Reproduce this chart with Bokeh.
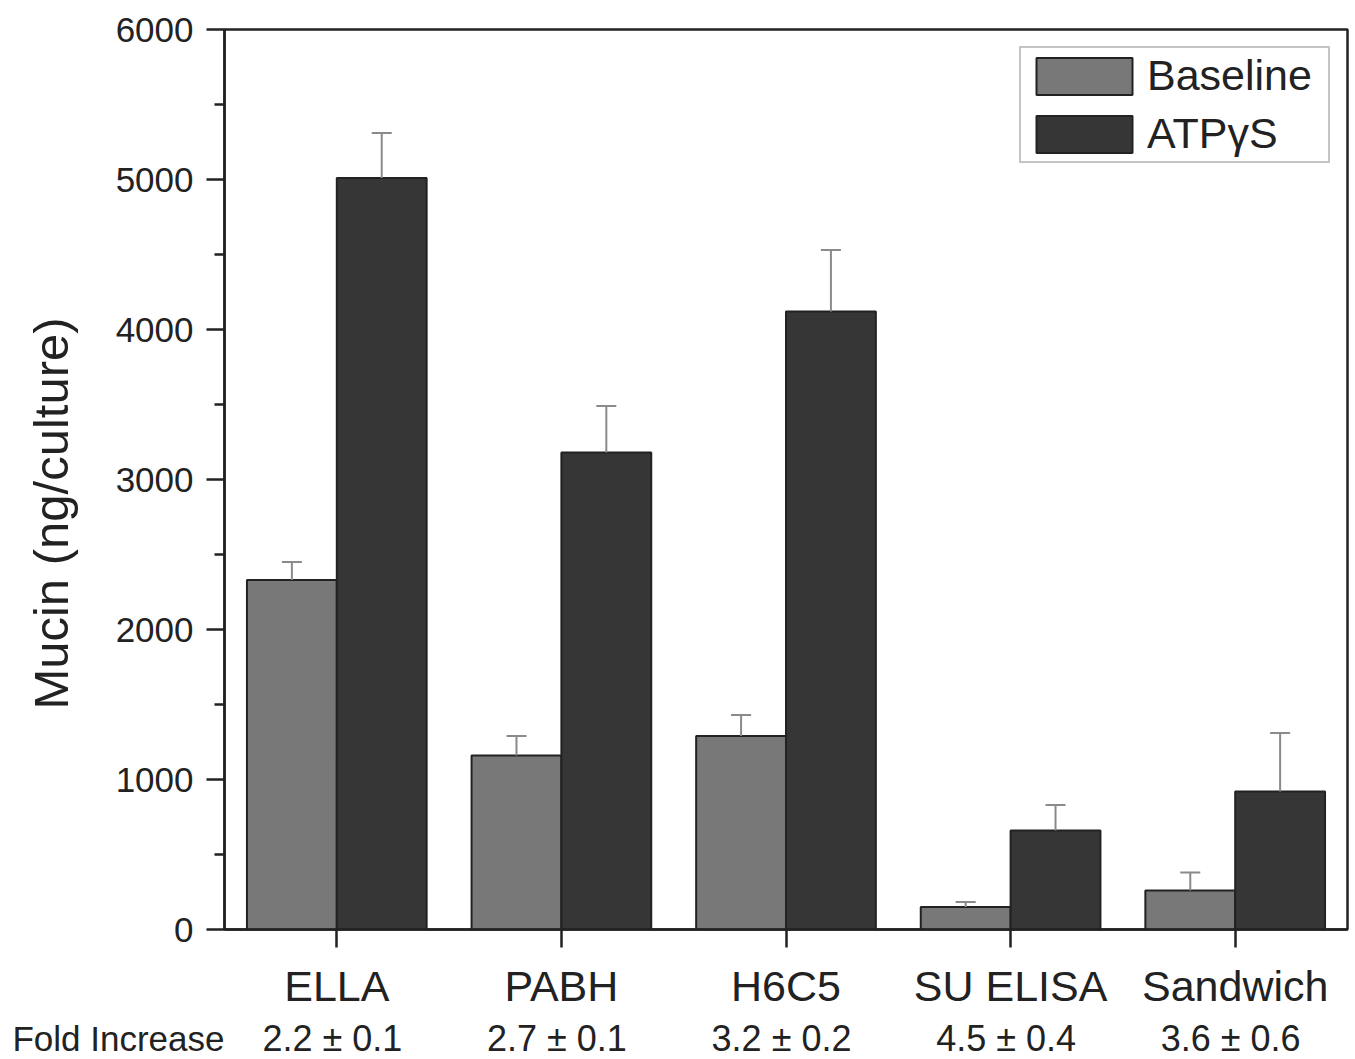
from bokeh.plotting import figure
from bokeh.models import (ColumnDataSource, FixedTicker, Whisker, TeeHead, Range1d)
from bokeh.layouts import column
from bokeh.core.properties import value
from bokeh.embed import file_html
from bokeh.resources import INLINE

# ---- data ----
categories = ["ELLA", "PABH", "H6C5", "SU ELISA", "Sandwich"]
baseline = [2330, 1160, 1290, 150, 260]
baseline_err = [120, 130, 140, 33, 120]
atp = [5010, 3180, 4120, 660, 920]
atp_err = [300, 310, 410, 170, 390]
fold_title = "Fold Increase"
fold_increase = ["2.2 \u00b1 0.1", "2.7 \u00b1 0.1", "3.2 \u00b1 0.2", "4.5 \u00b1 0.4", "3.6 \u00b1 0.6"]
y_ticks = [0, 1000, 2000, 3000, 4000, 5000, 6000]
y_minor = [500, 1500, 2500, 3500, 4500, 5500]

FONT = "Liberation Sans"
TXT = "#222222"
BASE_C = "#787878"
ATP_C = "#363636"
ERR_C = "#8a8a8a"

# layout constants (pixels)
W = 1350
LEFT = 224
FRAME_W = 1123
TOP = 29
FRAME_H = 903
BOTTOM = 80
STRIP_H = 47

n = len(categories)
centers = [i + 0.5 for i in range(n)]
bar_w = 0.4

src_b = ColumnDataSource(dict(
    x=[c - bar_w / 2 for c in centers], top=baseline,
    up=[v + e for v, e in zip(baseline, baseline_err)]))
src_a = ColumnDataSource(dict(
    x=[c + bar_w / 2 for c in centers], top=atp,
    up=[v + e for v, e in zip(atp, atp_err)]))

xr = Range1d(0, n)
p = figure(width=W, height=TOP + FRAME_H + BOTTOM, output_backend="svg",
           toolbar_location=None,
           x_range=xr, y_range=Range1d(0, 6000),
           min_border_left=LEFT, min_border_right=W - LEFT - FRAME_W,
           min_border_top=TOP, min_border_bottom=BOTTOM)
p.background_fill_color = "white"
p.border_fill_color = "white"
p.grid.visible = False
p.outline_line_color = TXT
p.outline_line_width = 2.5
p.outline_line_alpha = 1.0

p.vbar(x="x", top="top", width=bar_w, bottom=0, source=src_b,
       fill_color=BASE_C, line_color=TXT, line_width=2, legend_label="Baseline")
p.vbar(x="x", top="top", width=bar_w, bottom=0, source=src_a,
       fill_color=ATP_C, line_color=TXT, line_width=2, legend_label="ATP\u03b3S")

for s in (src_b, src_a):
    w = Whisker(source=s, base="x", lower="top", upper="up", dimension="height",
                line_color=ERR_C, line_width=2, level="annotation",
                lower_head=None,
                upper_head=TeeHead(size=20, line_color=ERR_C, line_width=2))
    p.add_layout(w)

# y axis
ya = p.yaxis[0]
ya.ticker = FixedTicker(ticks=y_ticks, minor_ticks=y_minor)
ya.major_tick_out = 18
ya.major_tick_in = 0
ya.minor_tick_out = 10
ya.minor_tick_in = 0
ya.axis_line_width = 2.5
ya.axis_line_color = TXT
ya.major_tick_line_width = 2.5
ya.major_tick_line_color = TXT
ya.minor_tick_line_width = 2.5
ya.minor_tick_line_color = TXT
ya.major_label_text_font = FONT
ya.major_label_text_font_size = "35px"
ya.major_label_text_color = TXT
ya.major_label_standoff = 13
ya.axis_label = "Mucin (ng/culture)" + "\u00a0" * 5
ya.axis_label_text_font = FONT
ya.axis_label_text_font_size = "49px"
ya.axis_label_text_font_style = "normal"
ya.axis_label_text_color = TXT
ya.axis_label_standoff = 35

# x axis
xa = p.xaxis[0]
xa.ticker = FixedTicker(ticks=centers, minor_ticks=[])
xa.major_label_overrides = {c: name for c, name in zip(centers, categories)}
xa.major_tick_out = 18
xa.major_tick_in = 0
xa.axis_line_width = 2.5
xa.axis_line_color = TXT
xa.major_tick_line_width = 2.5
xa.major_tick_line_color = TXT
xa.major_label_text_font = FONT
xa.major_label_text_font_size = "43px"
xa.major_label_text_color = TXT
xa.major_label_standoff = 14

# legend
lg = p.legend[0]
lg.location = "top_right"
lg.margin = 17
lg.padding = 3
lg.spacing = 9
lg.glyph_width = 120
lg.glyph_height = 46
lg.label_standoff = 3
lg.label_width = 178
lg.label_text_font = FONT
lg.label_text_font_size = "43px"
lg.label_text_color = TXT
lg.border_line_color = "#8a8a8a"
lg.border_line_width = 2
lg.background_fill_alpha = 1.0

# ---- fold increase strip (shares the horizontal scale of the main plot) ----
row_y = 0.45
q = figure(width=W, height=STRIP_H, output_backend="svg", toolbar_location=None,
           x_range=xr, y_range=Range1d(0, 1), x_axis_type=None,
           min_border_left=LEFT, min_border_right=W - LEFT - FRAME_W,
           min_border_top=0, min_border_bottom=0)
q.outline_line_color = None
q.grid.visible = False
q.background_fill_color = "white"
q.border_fill_color = "white"

qa = q.yaxis[0]
qa.ticker = FixedTicker(ticks=[row_y], minor_ticks=[])
qa.major_label_overrides = {row_y: fold_title}
qa.axis_line_color = None
qa.major_tick_line_color = None
qa.minor_tick_line_color = None
qa.major_tick_out = 0
qa.major_tick_in = 0
qa.major_label_standoff = 0
qa.major_label_text_font = FONT
qa.major_label_text_font_size = "35px"
qa.major_label_text_color = TXT

fsrc = ColumnDataSource(dict(x=[c - 0.02 for c in centers], y=[row_y] * n, t=fold_increase))
q.text(x="x", y="y", text="t", source=fsrc, text_align="center", text_baseline="middle",
       text_font=value(FONT), text_font_size="36px", text_color=TXT)

layout = column(p, q, spacing=0)
open("out.html", "w").write(file_html(layout, INLINE))
